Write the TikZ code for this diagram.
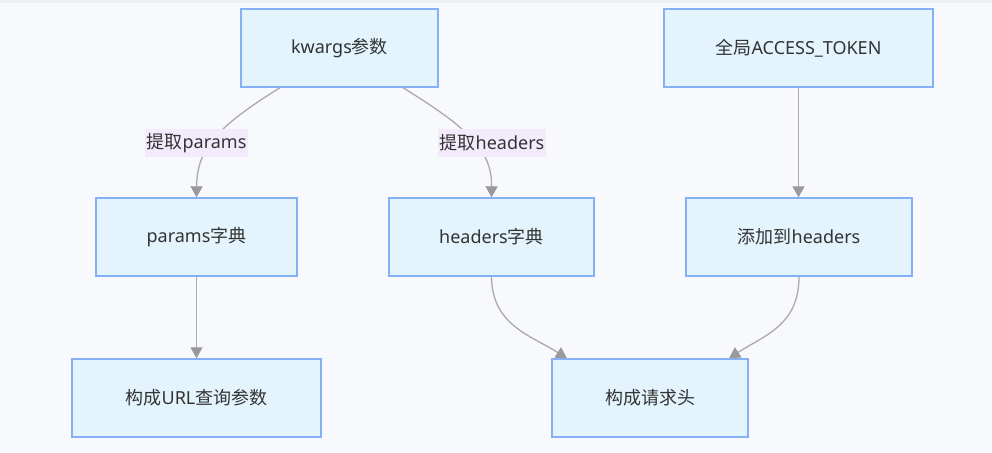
\documentclass[tikz,border=0pt]{standalone}
\usepackage{fontspec}
\setmainfont{Noto Sans}
\newfontfamily\cjk{Noto Sans CJK SC}
\usetikzlibrary{arrows.meta,calc}
\definecolor{bgc}{HTML}{F8F9FC}
\definecolor{topc}{HTML}{ECEEF2}
\definecolor{nfill}{HTML}{E3F4FD}
\definecolor{nline}{HTML}{86B0F6}
\definecolor{txt}{HTML}{333333}
\definecolor{edgec}{HTML}{AAAAAA}
\definecolor{tipc}{HTML}{999999}
\definecolor{lblc}{HTML}{F3EAFC}
\tikzset{
  box/.style={draw=nline, fill=nfill, line width=1.4pt, minimum height=78pt, inner sep=0pt,
    text=txt, font=\fontsize{18}{22}\selectfont},
  lbl/.style={fill=lblc, text=txt, inner sep=0pt, minimum height=28pt, font=\fontsize{18}{22}\selectfont},
  conn/.style={draw=edgec, line width=1.3pt, -{Triangle[length=11pt,width=12pt,fill=tipc,color=tipc]}},
}
\begin{document}
\begin{tikzpicture}[x=1pt,y=-1pt]
\fill[bgc] (0,0) rectangle (992,452);
\fill[topc] (0,0) rectangle (992,3);
\useasboundingbox (0,0) rectangle (992,452);

\node[box, minimum width=197pt] (kw) at (339.5,48) {kwargs{\cjk 参数}};
\node[box, minimum width=269pt] (at) at (798.5,48) {{\cjk 全局}ACCESS\_TOKEN};
\node[box, minimum width=201pt] (pd) at (196.5,237) {params{\cjk 字典}};
\node[box, minimum width=205pt] (hd) at (491.5,237) {headers{\cjk 字典}};
\node[box, minimum width=226pt] (add) at (799,237) {{\cjk 添加到}headers};
\node[box, minimum width=249pt] (url) at (196.5,398) {{\cjk 构成}URL{\cjk 查询参数}};
\node[box, minimum width=196pt] (req) at (650,398) {{\cjk 构成请求头}};

\coordinate (kwl) at ($(kw.south)+(-59.5,0)$);
\coordinate (kwr) at ($(kw.south)+(63.5,0)$);
\coordinate (reql) at ($(req.north)+(-83,0)$);
\coordinate (reqr) at ($(req.north)+(79,0)$);

\draw[conn] (kwl) .. controls (215,128) and (197,150) .. (pd.north);
\draw[conn] (kwr) .. controls (468,128) and (492,150) .. (hd.north);
\draw[conn] (at.south) -- (at.south |- add.north);
\draw[conn] (pd.south) -- (url.north);
\draw[conn] (hd.south) .. controls (492,325) and (530,335) .. (reql);
\draw[conn] (add.south) .. controls (799,325) and (765,335) .. (reqr);

\node[lbl, minimum width=103pt] (l1) at (196.5,143) {{\cjk 提取}params};
\node[lbl, minimum width=108pt] (l2) at (492,143) {{\cjk 提取}headers};
\end{tikzpicture}
\end{document}
